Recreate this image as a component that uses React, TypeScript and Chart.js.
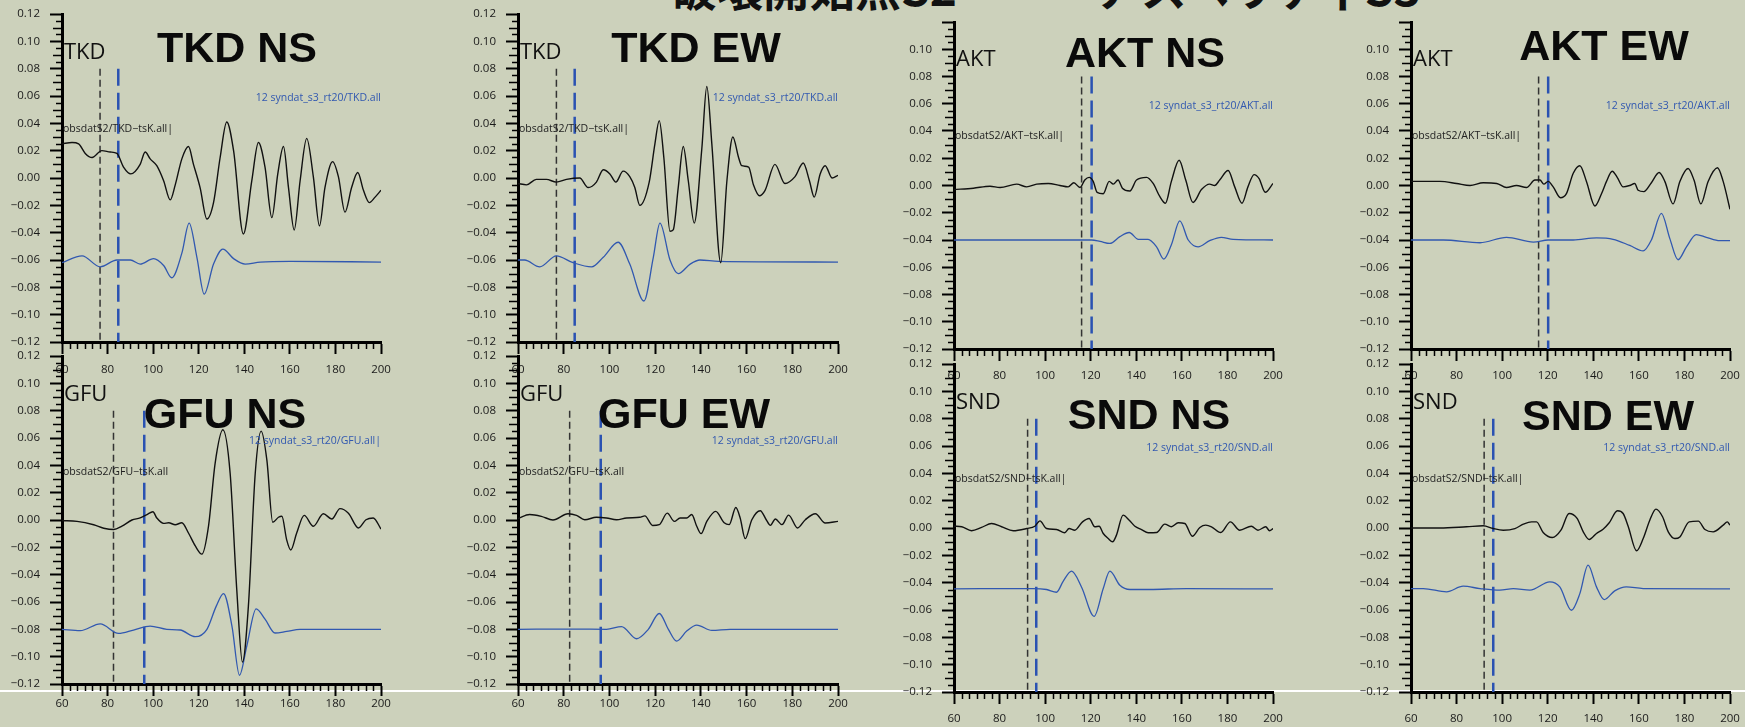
import React, { useEffect, useRef } from 'react';
import { Chart, registerables } from 'chart.js';

Chart.register(...registerables);
Chart.defaults.font.family = "'Open Sans', sans-serif";

type Pt = [number, number];

// ---------- axis ticks ----------
const xTickValues = [60, 80, 100, 120, 140, 160, 180, 200];
const yTickValues = [-0.12, -0.1, -0.08, -0.06, -0.04, -0.02, 0, 0.02, 0.04, 0.06, 0.08, 0.1, 0.12];
const yTickLabels = ['−0.12', '−0.10', '−0.08', '−0.06', '−0.04', '−0.02', '0.00', '0.02', '0.04', '0.06', '0.08', '0.10', '0.12'];
const pickTop = 0.08;

const pageTitle = '破壊開始点S2　　　アスペリティS3';

// ---------- TKD NS ----------
const tkdNsObs: Pt[] = [[60,0.025],[64.4,0.026],[67.3,0.025],[70.2,0.018],[73.2,0.015],[77.5,0.020],[81.2,0.019],[84.1,0.018],[87.0,0.008],[90.2,0.003],[94.3,0.010],[96.5,0.019],[98.7,0.014],[101.6,0.009],[104.6,-0.002],[107.5,-0.016],[109.7,-0.005],[112.6,0.014],[115.5,0.023],[117.7,0.010],[120.6,-0.007],[123.6,-0.030],[126.5,-0.018],[129.4,0.015],[132.3,0.041],[135.3,0.020],[139.6,-0.041],[143.3,-0.002],[146.2,0.026],[149.1,0.008],[152.1,-0.029],[154.7,0.003],[157.2,0.023],[159.4,-0.007],[161.9,-0.038],[164.5,-0.002],[167.4,0.029],[170.3,0.001],[173.0,-0.035],[175.4,-0.007],[178.8,0.012],[181.3,0.001],[184.2,-0.025],[187.1,-0.007],[189.8,0.004],[192.3,-0.009],[194.9,-0.018],[197.4,-0.014],[200,-0.009]];
const tkdNsSyn: Pt[] = [[60,-0.062],[68.8,-0.057],[76.8,-0.065],[84.1,-0.060],[90.0,-0.060],[94.3,-0.063],[100.2,-0.059],[104.6,-0.064],[108.2,-0.073],[112.6,-0.055],[115.8,-0.033],[119.2,-0.058],[122.4,-0.085],[126.5,-0.063],[130.6,-0.052],[135.3,-0.059],[140.4,-0.063],[147.0,-0.0615],[160.1,-0.061],[200,-0.0615]];
const tkdNsPicks = [76.7, 84.7];

// ---------- TKD EW ----------
const tkdEwObs: Pt[] = [[60,-0.004],[63.7,-0.005],[68.0,-0.001],[72.4,-0.001],[76.8,-0.003],[81.2,-0.001],[87.0,0.000],[90.7,-0.007],[94.3,-0.003],[97.3,0.006],[100.2,0.003],[102.8,-0.003],[106.0,0.005],[108.9,0.001],[111.1,-0.007],[113.3,-0.020],[117.4,-0.003],[119.9,0.025],[121.8,0.042],[123.8,0.015],[126.5,-0.039],[127.9,-0.038],[130.1,-0.007],[132.3,0.023],[134.5,-0.002],[137.1,-0.033],[140.4,0.021],[142.6,0.067],[144.8,0.025],[148.7,-0.062],[151.4,-0.002],[154.0,0.030],[156.5,0.015],[157.9,0.009],[160.9,0.008],[163.0,-0.005],[165.6,-0.013],[168.1,-0.009],[172.4,0.010],[176.8,-0.004],[181.2,0.001],[184.8,0.011],[187.5,-0.002],[189.6,-0.014],[192.2,0.003],[194.4,0.009],[197.4,0.000],[200,0.002]];
const tkdEwSyn: Pt[] = [[60,-0.060],[62.9,-0.060],[69.5,-0.065],[76.8,-0.057],[84.1,-0.062],[92.2,-0.065],[97.3,-0.058],[103.8,-0.047],[108.9,-0.063],[115.1,-0.090],[119.2,-0.058],[122.1,-0.033],[126.5,-0.060],[130.1,-0.070],[135.3,-0.063],[139.6,-0.060],[147.7,-0.061],[200,-0.0615]];
const tkdEwPicks = [76.8, 84.8];

// ---------- AKT NS ----------
const aktNsObs: Pt[] = [[60,-0.003],[68.5,-0.002],[75.8,-0.0005],[80.2,-0.0015],[87.5,0.001],[91.9,-0.001],[96.3,0.001],[101.4,0.0015],[106.5,0.000],[110.1,-0.001],[112.6,0.002],[115.3,-0.0015],[117.4,0.004],[119.3,0.006],[121.1,0.003],[122.8,-0.005],[125.5,-0.006],[128.1,0.003],[129.9,0.001],[132.0,0.004],[133.9,-0.002],[137.2,-0.004],[140.1,0.004],[144.5,0.006],[147.4,0.0015],[150.3,-0.008],[152.8,-0.013],[155.4,0.003],[158.8,0.0185],[161.7,0.004],[164.9,-0.0125],[168.6,-0.003],[172.2,0.001],[174.4,0.000],[176.6,0.004],[180.3,0.011],[183.2,-0.001],[186.4,-0.013],[189.0,-0.001],[191.7,0.008],[193.9,0.005],[196.6,-0.005],[200,0.0015]];
const aktNsSyn: Pt[] = [[60,-0.040],[94.8,-0.040],[120.4,-0.040],[124.1,-0.041],[128.4,-0.0425],[132.8,-0.0375],[136.9,-0.0345],[140.9,-0.0395],[145.2,-0.0395],[148.9,-0.045],[152.1,-0.054],[155.4,-0.0435],[159.1,-0.026],[162.8,-0.040],[167.1,-0.045],[172.2,-0.0405],[177.3,-0.038],[182.5,-0.0395],[200,-0.040]];
const aktNsPicks = [116.0, 120.4];

// ---------- AKT EW ----------
const aktEwObs: Pt[] = [[60,0.003],[72.7,0.003],[80.0,0.0015],[85.9,0.000],[91.7,0.002],[97.6,0.0015],[101.9,-0.0015],[106.3,0.000],[110.7,-0.0015],[114.4,0.004],[116.6,0.004],[118.3,0.001],[120.2,0.003],[122.4,-0.001],[125.6,-0.009],[128.2,-0.006],[131.2,0.009],[134.1,0.0145],[137.0,0.003],[140.7,-0.015],[143.6,-0.006],[145.8,0.003],[148.3,0.0105],[150.5,0.006],[153.1,-0.001],[156.0,0.000],[158.2,0.0015],[159.7,-0.0035],[162.2,-0.0045],[165.5,0.002],[168.9,0.0095],[171.4,0.003],[175.0,-0.0135],[178.0,0.003],[181.6,0.0125],[184.2,0.004],[187.2,-0.0135],[190.4,0.003],[194.5,0.013],[197.0,0.003],[200,-0.0175]];
const aktEwSyn: Pt[] = [[60,-0.040],[74.2,-0.040],[90.3,-0.042],[101.9,-0.038],[113.7,-0.0415],[120.2,-0.040],[131.2,-0.040],[141.4,-0.0385],[148.7,-0.0395],[156.0,-0.044],[161.9,-0.048],[165.5,-0.040],[169.9,-0.0205],[173.6,-0.039],[177.2,-0.0545],[180.9,-0.045],[185.2,-0.036],[189.6,-0.038],[195.5,-0.0405],[200,-0.0405]];
const aktEwPicks = [116.0, 120.2];

// ---------- GFU NS ----------
const gfuNsObs: Pt[] = [[60,-0.0005],[66.6,-0.001],[73.9,-0.0035],[78.3,-0.006],[82.7,-0.007],[86.3,-0.0045],[90.7,0.000],[94.3,0.0015],[97.3,0.004],[99.9,0.006],[101.6,0.0015],[104.6,-0.0025],[106.8,-0.002],[109.7,-0.0035],[112.6,-0.002],[115.5,-0.0095],[118.5,-0.019],[121.4,-0.025],[124.3,-0.0045],[127.2,0.0415],[130.6,0.066],[133.8,0.034],[136.7,-0.051],[139.2,-0.104],[141.8,-0.063],[144.8,0.034],[147.4,0.065],[149.9,0.044],[152.5,-0.0017],[155.0,0.002],[156.5,0.0027],[158.6,-0.0145],[160.4,-0.022],[163.0,-0.0095],[166.3,0.0034],[170.3,-0.0046],[174.7,0.0046],[178.4,0.0007],[182.0,0.0083],[185.7,0.005],[190.1,-0.0058],[193.4,0.0002],[196.6,0.0015],[200,-0.0066]];
const gfuNsSyn: Pt[] = [[60,-0.080],[68.0,-0.081],[76.8,-0.076],[84.8,-0.083],[91.4,-0.0805],[98.7,-0.0776],[106.0,-0.080],[111.9,-0.0805],[118.5,-0.0854],[123.6,-0.080],[127.7,-0.063],[130.9,-0.0538],[134.6,-0.0778],[137.9,-0.1136],[141.1,-0.0922],[145.2,-0.065],[149.1,-0.0725],[153.5,-0.0827],[158.6,-0.0815],[164.5,-0.080],[200,-0.080]];
const gfuNsPicks = [82.6, 96.1];

// ---------- GFU EW ----------
const gfuEwObs: Pt[] = [[60,0.001],[65.1,0.004],[70.2,0.0027],[75.3,0.000],[81.9,0.0046],[85.6,0.0034],[89.2,0.0002],[94.3,0.002],[98.7,0.0015],[103.1,0.0002],[107.5,0.0015],[113.3,0.002],[115.5,0.003],[118.9,-0.004],[121.8,-0.0034],[125.3,0.005],[128.4,-0.001],[130.9,0.0015],[133.8,0.0015],[136.0,0.004],[138.2,-0.0046],[140.1,-0.010],[142.6,-0.001],[146.5,0.0063],[150.2,-0.002],[152.4,-0.0034],[155.3,0.0092],[157.2,0.0015],[159.4,-0.0136],[162.3,0.0002],[166.0,0.0068],[168.6,0.0002],[170.4,-0.0039],[172.6,0.0007],[175.5,-0.0034],[178.4,0.0036],[182.3,-0.0058],[185.7,0.0002],[190.1,0.0046],[194.4,-0.0022],[200,-0.001]];
const gfuEwSyn: Pt[] = [[60,-0.080],[84.1,-0.0798],[98.7,-0.080],[105.3,-0.078],[111.9,-0.0869],[117.0,-0.080],[121.8,-0.0684],[125.8,-0.080],[129.4,-0.0886],[133.8,-0.0813],[138.2,-0.0769],[144.8,-0.0808],[152.8,-0.080],[200,-0.080]];
const gfuEwPicks = [82.6, 96.2];

// ---------- SND NS ----------
const sndNsObs: Pt[] = [[60,0.0013],[63.4,0.0009],[67.7,-0.002],[72.1,0.0004],[76.5,0.0033],[80.9,0.0009],[86.0,-0.002],[91.9,-0.0004],[95.5,0.0013],[97.7,0.0052],[100.6,-0.0004],[105.0,-0.0011],[108.6,-0.0035],[110.5,-0.0004],[113.0,-0.0016],[116.4,0.0045],[119.3,0.007],[121.8,0.0009],[123.7,0.0013],[125.5,-0.004],[127.7,-0.0077],[129.6,-0.0101],[131.3,-0.0052],[134.2,0.0094],[136.9,0.0057],[139.4,0.0013],[142.3,-0.0011],[145.2,-0.0035],[148.9,-0.0033],[152.5,0.0028],[155.4,0.0009],[158.4,0.0038],[161.3,0.0033],[164.6,-0.006],[167.9,0.0004],[170.5,0.0021],[173.0,0.0009],[177.1,-0.0033],[181.3,0.0045],[185.4,-0.0016],[190.5,0.0013],[193.4,-0.0016],[196.8,0.0009],[198.5,-0.002],[200,-0.0004]];
const sndNsSyn: Pt[] = [[60,-0.0445],[94.8,-0.0443],[100.6,-0.045],[105.0,-0.047],[107.9,-0.039],[111.6,-0.0316],[116.0,-0.0433],[121.5,-0.0646],[125.5,-0.0443],[128.4,-0.0316],[132.8,-0.0419],[137.2,-0.045],[145.9,-0.045],[162.0,-0.0443],[200,-0.0446]];
const sndNsPicks = [92.3, 96.1];

// ---------- SND EW ----------
const sndEwObs: Pt[] = [[60,0.000],[72.7,0.000],[84.4,0.0009],[91.7,0.0016],[96.1,-0.0004],[100.5,-0.0016],[105.6,-0.0004],[109.3,0.0028],[112.9,0.0045],[115.1,0.0045],[118.0,-0.0033],[122.0,-0.007],[125.8,-0.0016],[129.4,0.0106],[132.9,0.007],[135.6,-0.0028],[138.2,-0.0084],[141.4,-0.004],[144.3,-0.0009],[147.0,0.0038],[150.6,0.0126],[153.1,0.0106],[155.3,0.0013],[159.0,-0.0167],[161.9,-0.0077],[164.8,0.0057],[167.5,0.0138],[170.4,0.0082],[172.9,-0.0028],[175.8,-0.0077],[178.0,-0.0065],[182.1,0.0045],[186.1,0.005],[189.0,-0.0011],[192.6,-0.0028],[197.0,0.0021],[198.8,0.0045],[200,0.0021]];
const sndEwSyn: Pt[] = [[60,-0.0443],[65.4,-0.0443],[75.6,-0.0467],[82.9,-0.0426],[90.3,-0.0443],[99.0,-0.0455],[104.9,-0.0443],[112.2,-0.0455],[120.9,-0.0394],[125.3,-0.0431],[130.4,-0.0602],[134.1,-0.048],[137.7,-0.0272],[141.4,-0.0431],[144.8,-0.0524],[149.4,-0.046],[154.5,-0.0431],[161.9,-0.0443],[200,-0.0446]];
const sndEwPicks = [92.1, 96.1];

// ---------- panel layout (page pixels) ----------
type Panel = {
  station: string; title: string; obs: Pt[]; syn: Pt[]; picks: number[];
  L: number; R: number; T: number; B: number; xPad: number; topLabel: boolean;
  nameY: number; titleX: number; titleY: number; synY: number; obsY: number;
  obsText: string; synText: string;
};

const panels: Panel[] = [
  { station: 'TKD', title: 'TKD NS', obs: tkdNsObs, syn: tkdNsSyn, picks: tkdNsPicks, L: 62, R: 381, T: 14, B: 342, xPad: 9, topLabel: true, nameY: 50, titleX: 237, titleY: 47, synY: 97, obsY: 128, obsText: 'obsdatS2/TKD−tsK.all|', synText: '12 syndat_s3_rt20/TKD.all' },
  { station: 'TKD', title: 'TKD EW', obs: tkdEwObs, syn: tkdEwSyn, picks: tkdEwPicks, L: 518, R: 838, T: 14, B: 342, xPad: 9, topLabel: true, nameY: 50, titleX: 696, titleY: 47, synY: 97, obsY: 128, obsText: 'obsdatS2/TKD−tsK.all|', synText: '12 syndat_s3_rt20/TKD.all' },
  { station: 'AKT', title: 'AKT NS', obs: aktNsObs, syn: aktNsSyn, picks: aktNsPicks, L: 954, R: 1273, T: 22, B: 349, xPad: 8, topLabel: false, nameY: 57, titleX: 1145, titleY: 52, synY: 105, obsY: 135, obsText: 'obsdatS2/AKT−tsK.all|', synText: '12 syndat_s3_rt20/AKT.all' },
  { station: 'AKT', title: 'AKT EW', obs: aktEwObs, syn: aktEwSyn, picks: aktEwPicks, L: 1411, R: 1730, T: 22, B: 349, xPad: 8, topLabel: false, nameY: 57, titleX: 1604, titleY: 45, synY: 105, obsY: 135, obsText: 'obsdatS2/AKT−tsK.all|', synText: '12 syndat_s3_rt20/AKT.all' },
  { station: 'GFU', title: 'GFU NS', obs: gfuNsObs, syn: gfuNsSyn, picks: gfuNsPicks, L: 62, R: 381, T: 356, B: 684, xPad: 1, topLabel: true, nameY: 392, titleX: 225, titleY: 413, synY: 440, obsY: 471, obsText: 'obsdatS2/GFU−tsK.all', synText: '12 syndat_s3_rt20/GFU.all|' },
  { station: 'GFU', title: 'GFU EW', obs: gfuEwObs, syn: gfuEwSyn, picks: gfuEwPicks, L: 518, R: 838, T: 356, B: 684, xPad: 1, topLabel: true, nameY: 392, titleX: 684, titleY: 413, synY: 440, obsY: 471, obsText: 'obsdatS2/GFU−tsK.all', synText: '12 syndat_s3_rt20/GFU.all' },
  { station: 'SND', title: 'SND NS', obs: sndNsObs, syn: sndNsSyn, picks: sndNsPicks, L: 954, R: 1273, T: 364, B: 692, xPad: 8, topLabel: true, nameY: 400, titleX: 1149, titleY: 414, synY: 447, obsY: 478, obsText: 'obsdatS2/SND−tsK.all|', synText: '12 syndat_s3_rt20/SND.all' },
  { station: 'SND', title: 'SND EW', obs: sndEwObs, syn: sndEwSyn, picks: sndEwPicks, L: 1411, R: 1730, T: 364, B: 692, xPad: 8, topLabel: true, nameY: 400, titleX: 1608, titleY: 415, synY: 447, obsY: 478, obsText: 'obsdatS2/SND−tsK.all|', synText: '12 syndat_s3_rt20/SND.all' },
];

const PAD_L = 62, PAD_T = 14, PAD_R = 22, PAD_B = 45;
const BLUE = '#3158b0';

const minorTicks = {
  id: 'minorTicks',
  afterDraw(chart: any) {
    const { ctx } = chart;
    const x = chart.scales.x, y = chart.scales.y;
    ctx.save();
    ctx.strokeStyle = '#000';
    ctx.lineWidth = 1.5;
    ctx.beginPath();
    for (let i = 0; i <= 48; i++) {
      if (i % 4 === 0) continue;
      const py = Math.round(y.getPixelForValue(-0.12 + i * 0.005)) + 0.5;
      const len = i % 2 === 0 ? 9 : 6;
      ctx.moveTo(y.right - len, py);
      ctx.lineTo(y.right, py);
    }
    for (let i = 0; i <= 42; i++) {
      if (i % 6 === 0) continue;
      const px = Math.round(x.getPixelForValue(60 + (i * 10) / 3)) + 0.5;
      ctx.moveTo(px, x.top);
      ctx.lineTo(px, x.top + 7);
    }
    ctx.stroke();
    ctx.restore();
  },
};

function PanelChart({ p }: { p: Panel }) {
  const ref = useRef<HTMLCanvasElement>(null);
  const w = PAD_L + (p.R - p.L) + PAD_R;
  const h = PAD_T + (p.B - p.T) + PAD_B;
  useEffect(() => {
    const line = (pts: Pt[]) => pts.map(([x, y]) => ({ x, y }));
    const chart = new Chart(ref.current!, {
      type: 'line',
      data: {
        datasets: [
          { data: line(p.obs), borderColor: '#111', borderWidth: 1.4, pointRadius: 0, cubicInterpolationMode: 'monotone' },
          { data: line(p.syn), borderColor: BLUE, borderWidth: 1.3, pointRadius: 0, cubicInterpolationMode: 'monotone' },
          { data: [{ x: p.picks[0], y: pickTop }, { x: p.picks[0], y: -0.12 }], borderColor: '#333', borderWidth: 1.5, borderDash: [7, 4], pointRadius: 0 },
          { data: [{ x: p.picks[1], y: pickTop }, { x: p.picks[1], y: -0.12 }], borderColor: '#2a52b2', borderWidth: 2.5, borderDash: [17, 7], pointRadius: 0 },
        ] as any,
      },
      options: {
        responsive: false,
        animation: false,
        devicePixelRatio: 1,
        layout: { padding: { left: 0, top: PAD_T, right: PAD_R, bottom: 0 } },
        plugins: { legend: { display: false }, tooltip: { enabled: false } },
        scales: {
          x: {
            type: 'linear', min: 60, max: 200,
            afterBuildTicks: (s: any) => { s.ticks = xTickValues.map((v) => ({ value: v })); },
            afterFit: (s: any) => { s.height = PAD_B; s.paddingLeft = 0; s.paddingRight = 0; s.paddingTop = 0; s.paddingBottom = 0; },
            ticks: { autoSkip: false, maxRotation: 0, padding: p.xPad, color: '#1a1a1a', font: { size: 11.5 }, callback: (v: any) => String(v) },
            grid: { drawOnChartArea: false, drawTicks: true, tickLength: 12, tickWidth: 2, tickColor: '#000' },
            border: { display: true, color: '#000', width: 3 },
          },
          y: {
            type: 'linear', min: -0.12, max: 0.12,
            afterBuildTicks: (s: any) => { s.ticks = yTickValues.map((v) => ({ value: v })); },
            afterFit: (s: any) => { s.width = PAD_L; s.paddingTop = 0; s.paddingBottom = 0; s.paddingLeft = 0; s.paddingRight = 0; },
            ticks: {
              autoSkip: false, padding: 10, color: '#1a1a1a', font: { size: 11.5 },
              callback: (_v: any, i: number) => (i === yTickLabels.length - 1 && !p.topLabel ? '' : yTickLabels[i]),
            },
            grid: { drawOnChartArea: false, drawTicks: true, tickLength: 12, tickWidth: 2, tickColor: '#000' },
            border: { display: true, color: '#000', width: 3 },
          },
        },
      } as any,
      plugins: [minorTicks],
    });
    return () => chart.destroy();
  }, []);
  return (
    <canvas
      ref={ref}
      width={w}
      height={h}
      style={{ position: 'absolute', left: p.L - PAD_L, top: p.T - PAD_T, width: w, height: h }}
    />
  );
}

const abs = (extra: React.CSSProperties): React.CSSProperties => ({
  position: 'absolute', whiteSpace: 'nowrap', lineHeight: 1, ...extra,
});

export default function App() {
  return (
    <div style={{ position: 'absolute', left: 0, top: 0, width: 1745, height: 727, overflow: 'hidden', background: 'rgb(204,209,187)' }}>
      <div style={abs({ left: 671, top: -37, fontFamily: "'Noto Sans CJK JP', sans-serif", fontWeight: 700, fontSize: 46, color: '#111' })}>{pageTitle}</div>
      <div style={{ position: 'absolute', left: 0, top: 690, width: 1745, height: 2, background: '#fff' }} />
      {panels.map((p, i) => <PanelChart key={i} p={p} />)}
      {panels.map((p, i) => (
        <React.Fragment key={'t' + i}>
          <div style={abs({ left: p.L + 2, top: p.nameY, transform: 'translateY(-50%)', fontFamily: "'Open Sans', sans-serif", fontSize: 22, color: '#111' })}>{p.station}</div>
          <div style={abs({ left: p.titleX, top: p.titleY, transform: 'translate(-50%,-50%)', fontFamily: "'Liberation Sans', Arial, sans-serif", fontWeight: 700, fontSize: 43, color: '#0a0a0a' })}>{p.title}</div>
          <div style={abs({ left: p.R, top: p.synY, transform: 'translate(-100%,-50%)', fontFamily: "'Open Sans', sans-serif", fontSize: 10.5, color: BLUE })}>{p.synText}</div>
          <div style={abs({ left: p.L + 1, top: p.obsY, transform: 'translateY(-50%)', fontFamily: "'Open Sans', sans-serif", fontSize: 10.5, color: '#222' })}>{p.obsText}</div>
        </React.Fragment>
      ))}
    </div>
  );
}
